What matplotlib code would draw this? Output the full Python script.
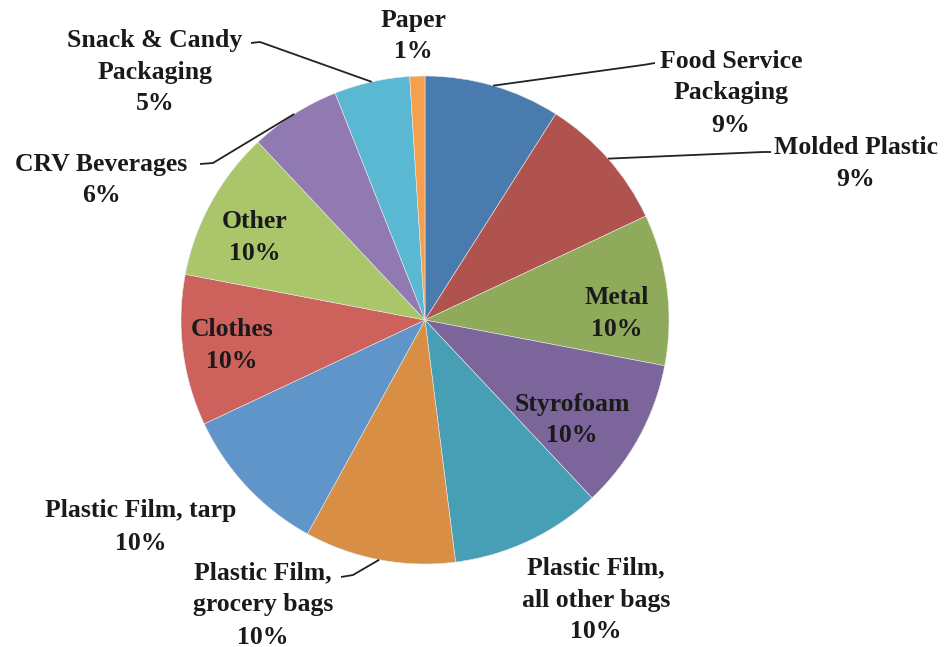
import numpy as np
import matplotlib
matplotlib.use("Agg")
import matplotlib.pyplot as plt

# litter composition, clockwise from 12 o'clock
categories = ["Food Service\nPackaging", "Molded Plastic", "Metal", "Styrofoam",
              "Plastic Film,\nall other bags", "Plastic Film,\ngrocery bags",
              "Plastic Film, tarp", "Clothes", "Other", "CRV Beverages",
              "Snack & Candy\nPackaging", "Paper"]
percent = [9, 9, 10, 10, 10, 10, 10, 10, 10, 6, 5, 1]
colors = ["#4a7baf", "#b0524d", "#8faa5a", "#7c659a", "#479fb5", "#d98e46",
          "#5f95c9", "#cd625c", "#aac56a", "#9179b2", "#5bb8d2", "#f5a04f"]

W, H = 946, 647
CX, CY, R = 425, 320, 244

# label centre (pixels, y down) and optional leader (elbow, end) per slice
layout = {
    "Food Service\nPackaging": ((731, 93), [(643, 65), (655, 63)]),
    "Molded Plastic": ((856, 163), [(763, 152), (771, 152)]),
    "Metal": ((617, 314), None),
    "Styrofoam": ((572, 420), None),
    "Plastic Film,\nall other bags": ((596, 600), None),
    "Plastic Film,\ngrocery bags": ((263, 605), [(353, 575), (341, 577)]),
    "Plastic Film, tarp": ((141, 527), None),
    "Clothes": ((232, 346), None),
    "Other": ((255, 238), None),
    "CRV Beverages": ((101, 180), [(213, 163), (200, 164)]),
    "Snack & Candy\nPackaging": ((155, 72), [(260, 42), (251, 43)]),
    "Paper": ((413, 36), None),
}

plt.rcParams["font.family"] = ["Liberation Serif", "DejaVu Serif"]

fig = plt.figure(figsize=(W / 100, H / 100), dpi=100)
ax = fig.add_axes([0, 0, 1, 1])

wedges, _ = ax.pie(percent, colors=colors, startangle=90, counterclock=False,
                   center=(CX, H - CY), radius=R, frame=True,
                   wedgeprops=dict(edgecolor="#e8e8e8", linewidth=0.4))
ax.set_xlim(0, W)
ax.set_ylim(0, H)
ax.set_axis_off()

for w, name, val in zip(wedges, categories, percent):
    (tx, ty), leader = layout[name]
    ax.text(tx, H - ty, f"{name}\n{val}%", ha="center", va="center",
            multialignment="center", fontsize=18.5, fontweight="bold",
            color="#1a1a1a", linespacing=1.5)
    if leader:
        mid = np.deg2rad((w.theta1 + w.theta2) / 2)
        xs = [CX + R * np.cos(mid)] + [p[0] for p in leader]
        ys = [H - CY + R * np.sin(mid)] + [H - p[1] for p in leader]
        ax.plot(xs, ys, color="#222222", lw=1.3, solid_capstyle="butt")

fig.savefig("out.png", dpi=100)
